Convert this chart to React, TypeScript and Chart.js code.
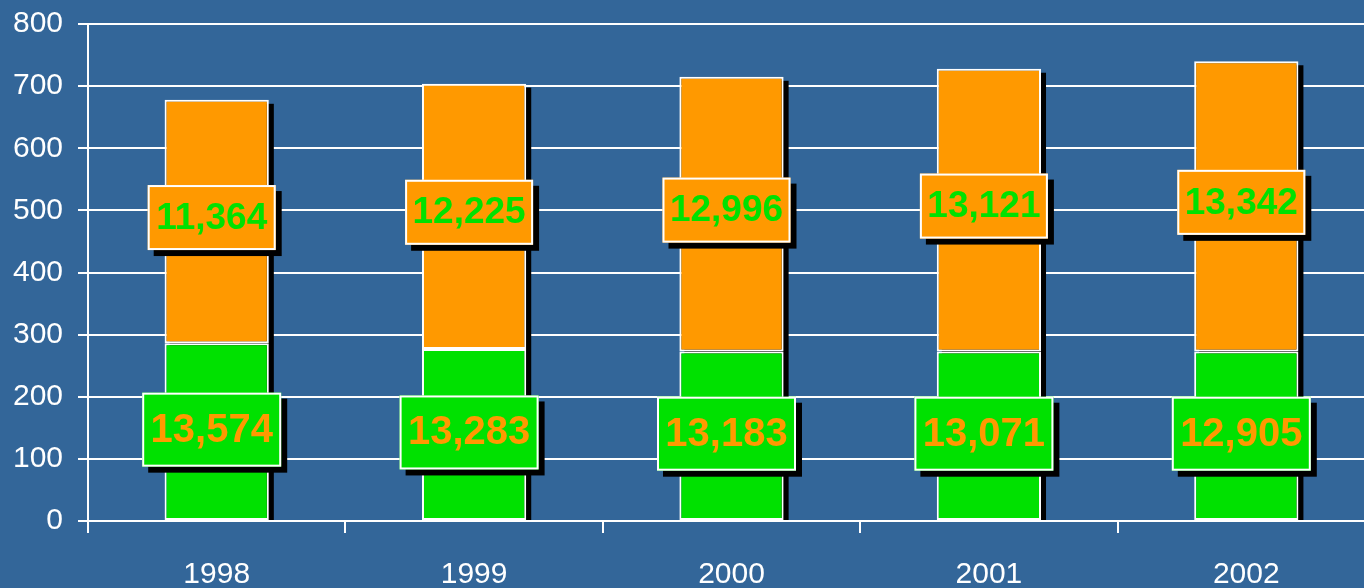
import React, { useEffect, useRef } from "react";
import { Chart, registerables } from "chart.js";

Chart.register(...registerables);

const categories = ["1998", "1999", "2000", "2001", "2002"];
const greenValues = [286, 277, 273, 273, 273];
const orangeValues = [392, 427, 442, 455, 467];
const greenLabels = ["13,574", "13,283", "13,183", "13,071", "12,905"];
const orangeLabels = ["11,364", "12,225", "12,996", "13,121", "13,342"];
const yTicks = [0, 100, 200, 300, 400, 500, 600, 700, 800];

const BG = "#336699";
const GREEN = "#00E100";
const ORANGE = "#FF9900";
const FONT = "Arial, 'Liberation Sans', sans-serif";

const shadowPlugin = {
  id: "barShadow",
  beforeDatasetsDraw(chart: any) {
    const ctx = chart.ctx;
    const top = chart.getDatasetMeta(1).data;
    const bottom = chart.getDatasetMeta(0).data;
    ctx.save();
    ctx.fillStyle = "#000000";
    top.forEach((el: any, i: number) => {
      const b = bottom[i];
      const w = el.width;
      const x0 = el.x - w / 2 + 5;
      const y0 = el.y + 4;
      const y1 = b.base;
      ctx.fillRect(x0, y0, w, y1 - y0);
    });
    ctx.restore();
  },
};

const labelPlugin = {
  id: "boxLabels",
  afterDatasetsDraw(chart: any) {
    const ctx = chart.ctx;
    const drawBox = (
      cx: number,
      cy: number,
      w: number,
      h: number,
      fill: string,
      textColor: string,
      text: string,
      size: number
    ) => {
      const x = cx - w / 2;
      const y = cy - h / 2;
      ctx.fillStyle = "#000000";
      ctx.fillRect(x + 6, y + 6, w, h);
      ctx.fillStyle = fill;
      ctx.fillRect(x, y, w, h);
      ctx.strokeStyle = "#FFFFFF";
      ctx.lineWidth = 2;
      ctx.strokeRect(x + 1, y + 1, w - 2, h - 2);
      ctx.fillStyle = textColor;
      ctx.font = `bold ${size}px ${FONT}`;
      ctx.textAlign = "center";
      ctx.textBaseline = "middle";
      ctx.fillText(text, cx, cy + 1);
    };
    ctx.save();
    const g = chart.getDatasetMeta(0).data;
    const o = chart.getDatasetMeta(1).data;
    g.forEach((el: any, i: number) => {
      const cy = (el.y + el.base) / 2 - 2;
      drawBox(el.x - 5, cy, 139, 74, GREEN, ORANGE, greenLabels[i], 40);
    });
    o.forEach((el: any, i: number) => {
      const cy = (el.y + el.base) / 2 - 4;
      drawBox(el.x - 5, cy, 128, 65, ORANGE, GREEN, orangeLabels[i], 37);
    });
    ctx.restore();
  },
};

const bgPlugin = {
  id: "bg",
  beforeDraw(chart: any) {
    const ctx = chart.ctx;
    ctx.save();
    ctx.fillStyle = BG;
    ctx.fillRect(0, 0, chart.width, chart.height);
    ctx.restore();
  },
};

export default function App() {
  const ref = useRef<HTMLCanvasElement | null>(null);
  useEffect(() => {
    if (!ref.current) return;
    const chart = new Chart(ref.current, {
      type: "bar",
      data: {
        labels: categories,
        datasets: [
          {
            data: greenValues,
            backgroundColor: GREEN,
            borderColor: "#FFFFFF",
            borderWidth: 2,
            borderSkipped: false,
            categoryPercentage: 1,
            barPercentage: 0.405,
          },
          {
            data: orangeValues,
            backgroundColor: ORANGE,
            borderColor: "#FFFFFF",
            borderWidth: 2,
            borderSkipped: false,
            categoryPercentage: 1,
            barPercentage: 0.405,
          },
        ],
      },
      options: {
        responsive: false,
        animation: false,
        layout: { padding: { top: 24, left: 0, right: 0, bottom: 0 } },
        plugins: {
          legend: { display: false },
          tooltip: { enabled: false },
        },
        scales: {
          x: {
            stacked: true,
            afterFit: (s: any) => {
              s.height = 67;
              s.paddingLeft = 0;
              s.paddingRight = 0;
            },
            grid: {
              offset: true,
              drawOnChartArea: false,
              drawTicks: true,
              tickLength: 12,
              color: "#FFFFFF",
              lineWidth: 2,
            },
            border: { color: "#FFFFFF", width: 2 },
            ticks: {
              color: "#FFFFFF",
              font: { family: FONT, size: 30 },
              padding: 24,
              maxRotation: 0,
            },
          },
          y: {
            stacked: true,
            min: 0,
            max: 800,
            afterFit: (s: any) => {
              s.width = 88;
              s.paddingTop = 0;
              s.paddingBottom = 0;
            },
            afterBuildTicks: (s: any) => {
              s.ticks = yTicks.map((v) => ({ value: v }));
            },
            grid: {
              color: "#FFFFFF",
              lineWidth: 2,
              tickLength: 10,
              drawTicks: true,
            },
            border: { color: "#FFFFFF", width: 2 },
            ticks: {
              color: "#FFFFFF",
              font: { family: FONT, size: 30 },
              padding: 15,
            },
          },
        },
      },
      plugins: [bgPlugin, shadowPlugin, labelPlugin],
    });
    return () => chart.destroy();
  }, []);

  return (
    <div
      style={{
        position: "fixed",
        left: 0,
        top: 0,
        width: 1364,
        height: 588,
        overflow: "hidden",
        background: BG,
      }}
    >
      <canvas ref={ref} width={1375} height={588} style={{ display: "block" }} />
    </div>
  );
}
